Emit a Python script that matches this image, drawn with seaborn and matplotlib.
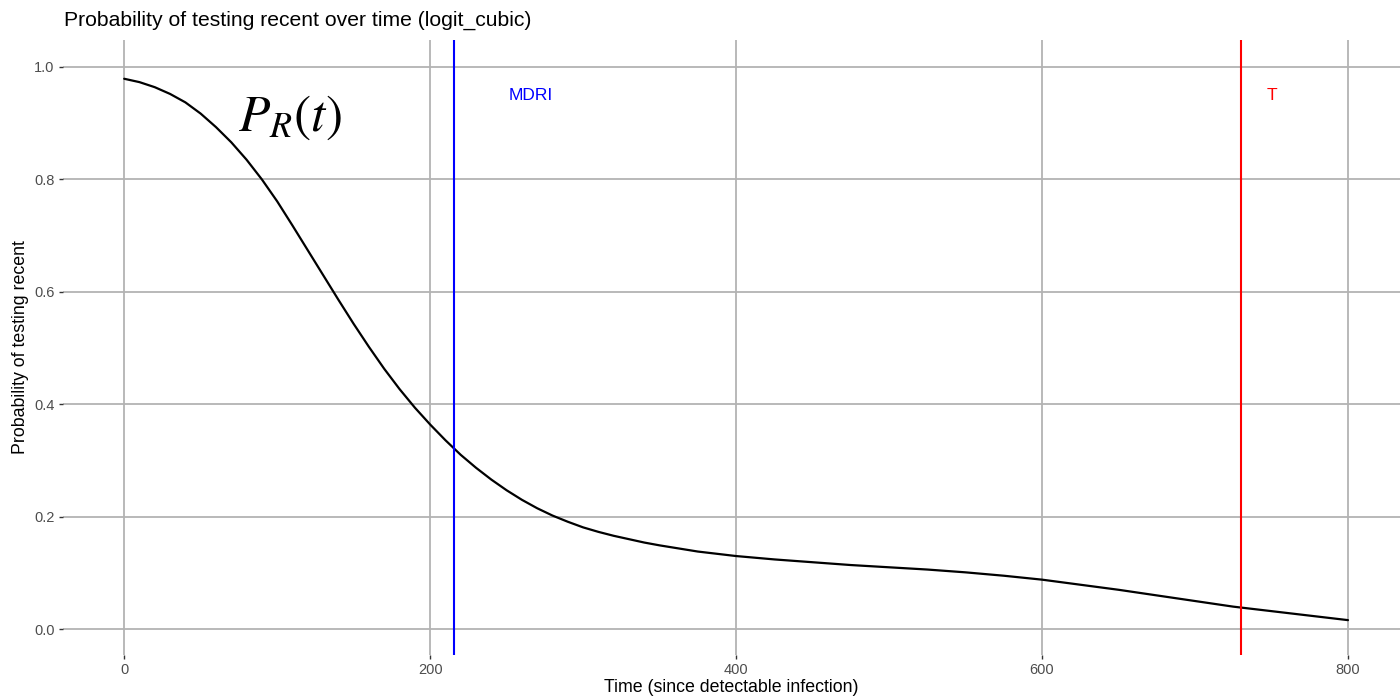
import numpy as np
import pandas as pd
import matplotlib
matplotlib.use("Agg")
import matplotlib.pyplot as plt
import seaborn as sns

# values
time_days = [0, 10, 20, 30, 40, 50, 60, 70, 80, 90, 100, 110, 120, 130, 140,
             150, 160, 170, 180, 190, 200, 210, 220, 230, 240, 250, 260, 270,
             280, 290, 300, 310, 320, 330, 340, 350, 375, 400, 425, 450, 475,
             500, 525, 550, 575, 600, 625, 650, 675, 700, 725, 750, 775, 800]
prob_recent = [0.979, 0.973, 0.964, 0.952, 0.937, 0.917, 0.893, 0.866, 0.835,
               0.800, 0.761, 0.718, 0.674, 0.630, 0.586, 0.543, 0.502, 0.463,
               0.427, 0.394, 0.364, 0.336, 0.310, 0.287, 0.266, 0.247, 0.230,
               0.215, 0.202, 0.191, 0.181, 0.173, 0.166, 0.160, 0.154, 0.149,
               0.138, 0.130, 0.124, 0.119, 0.114, 0.110, 0.106, 0.101, 0.095,
               0.088, 0.079, 0.070, 0.060, 0.050, 0.040, 0.032, 0.024, 0.016]
mdri = 215.7
big_t = 730
x_ticks = [0, 200, 400, 600, 800]
y_ticks = [0.0, 0.2, 0.4, 0.6, 0.8, 1.0]

df = pd.DataFrame({"time": time_days, "prob": prob_recent})

sns.set_theme(style="whitegrid")
plt.rcParams["font.family"] = ["Liberation Sans", "DejaVu Sans"]
plt.rcParams["mathtext.fontset"] = "stix"

fig = plt.figure(figsize=(14, 7), dpi=100)
ax = fig.add_axes([0.045, 0.0643, 0.955, 0.8786])

sns.lineplot(data=df, x="time", y="prob", color="black", linewidth=1.6, ax=ax)
ax.axvline(mdri, color="#0000FF", linewidth=1.5)
ax.axvline(big_t, color="#FF0000", linewidth=1.5)
ax.text(mdri + 50, 0.95, "MDRI", color="#0000FF", fontsize=12.5, ha="center", va="center")
ax.text(big_t + 20, 0.95, "T", color="#FF0000", fontsize=12.5, ha="center", va="center")
ax.text(108, 0.91, r"$P_R(t)$", fontsize=37, color="black", ha="center", va="center")

ax.set_xlim(-40, 834)
ax.set_ylim(-0.046, 1.048)
ax.set_xticks(x_ticks)
ax.set_yticks(y_ticks)
ax.set_xticklabels([str(v) for v in x_ticks])
ax.set_yticklabels([f"{v:.1f}" for v in y_ticks])
ax.grid(True, color="#b3b3b3", linewidth=1.3)
for s in ax.spines.values():
    s.set_visible(False)
ax.tick_params(axis="both", colors="#333333", labelcolor="#4d4d4d", labelsize=10.5,
               length=3, width=1, pad=3, direction="out", bottom=True, left=True)

ax.set_xlabel("Time (since detectable infection)", fontsize=12.8, color="black", labelpad=1)
ax.set_ylabel("Probability of testing recent", fontsize=12.8, color="black", labelpad=4)
fig.text(0.0457, 0.971, "Probability of testing recent over time (logit_cubic)",
         fontsize=15.2, color="black", ha="left", va="center")

fig.savefig("out.png", dpi=100)
